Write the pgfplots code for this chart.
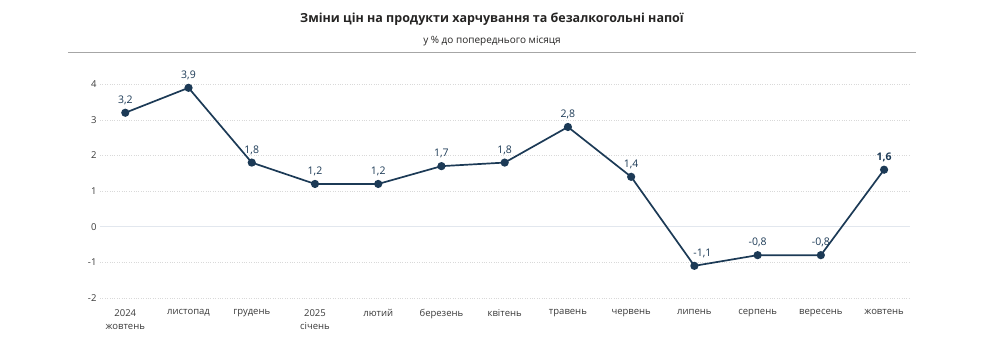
\documentclass[border=0pt]{standalone}
\usepackage{pgfplots}
\pgfplotsset{compat=1.18}
\usepackage{pgfplotstable}
\usepackage{fontspec}
\setmainfont{Open Sans}
\definecolor{navy}{HTML}{1C3A56}
\definecolor{ticktxt}{HTML}{3A3A3A}
\pgfplotstableread{
x y lab
0 3.2 {3,2}
1 3.9 {3,9}
2 1.8 {1,8}
3 1.2 {1,2}
4 1.2 {1,2}
5 1.7 {1,7}
6 1.8 {1,8}
7 2.8 {2,8}
8 1.4 {1,4}
9 -1.1 {\kern16pt-1,1}
10 -0.8 {-0,8}
11 -0.8 {-0,8}
12 1.6 {\textbf{1,6}}
}\datatable
\begin{document}
\begin{tikzpicture}
\useasboundingbox (-100pt,-36pt) rectangle (882pt,305pt);
\begin{axis}[
  scale only axis,
  width=810pt, height=235pt,
  xmin=-0.4, xmax=12.41,
  ymin=-2.2, ymax=4.4,
  axis line style={draw=none},
  tick style={draw=none},
  xtick={0,...,12},
  xticklabels={{2024\\жовтень},листопад,грудень,{2025\\січень},лютий,березень,квітень,травень,червень,липень,серпень,вересень,жовтень},
  xticklabel style={align=center, font=\fontsize{9.5}{13}\selectfont, text=ticktxt, yshift=-1pt},
  ytick={-2,...,4},
  yticklabels={-2,-1,0,1,2,3,4},
  yticklabel style={font=\fontsize{9.5}{11}\selectfont, text=ticktxt},
  ymajorgrids,
  major grid style={dotted, color=gray!30, line width=0.7pt},
  clip=false,
]
\draw[color={rgb,255:red,226;green,231;blue,238}, line width=1.6pt] (axis cs:-0.4,0) -- (axis cs:12.41,0);
\addplot[navy, line width=1.7pt, mark=*, mark size=3.2pt,
  nodes near coords, point meta=explicit symbolic,
  every node near coord/.style={font=\fontsize{10.5}{12}\selectfont, text=navy, anchor=south, yshift=4pt}]
  table[x=x, y=y, meta=lab] {\datatable};
\end{axis}
\node[font=\bfseries\fontsize{12.5}{14}\selectfont, text={rgb,255:red,37;green,36;blue,35}] at (392pt,286pt) {Зміни цін на продукти харчування та безалкогольні напої};
\node[font=\fontsize{10}{12}\selectfont, text={rgb,255:red,37;green,36;blue,35}] at (392pt,264pt) {у \% до попереднього місяця};
\draw[color=gray!70, line width=1pt] (-32pt,253pt) -- (816pt,253pt);
\end{tikzpicture}
\end{document}
